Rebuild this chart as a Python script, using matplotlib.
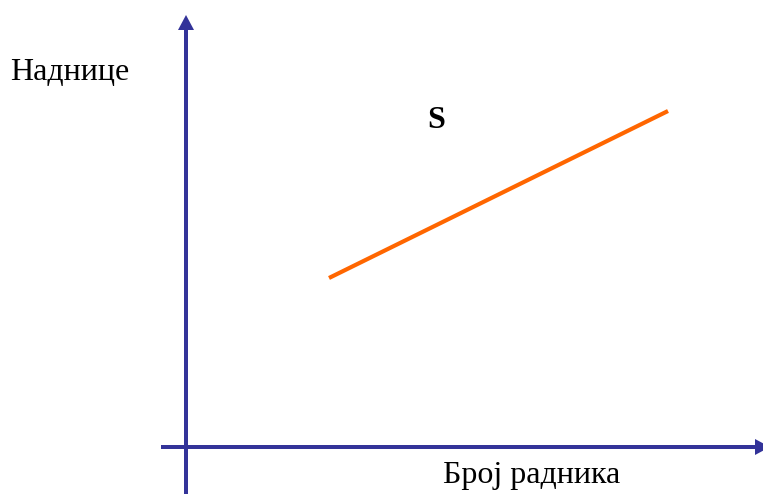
import matplotlib
matplotlib.use('Agg')
import matplotlib.pyplot as plt

# supply curve S (units: 1 = 100 px, origin at axes crossing)
S_x = [1.43, 4.82]
S_y = [1.69, 3.36]

blue = '#333399'
orange = '#ff6600'

plt.rcParams['font.family'] = ['Liberation Serif', 'DejaVu Serif']

fig = plt.figure(figsize=(7.63, 4.94), dpi=100)
ax = fig.add_axes([0, 0, 1, 1])
ax.set_xlim(-1.86, 5.77)
ax.set_ylim(-0.47, 4.47)
ax.axis('off')

# axes with arrows
ax.arrow(-0.25, 0, 6.09, 0, width=0.04, head_width=0.16, head_length=0.15,
         length_includes_head=True, color=blue, linewidth=0)
ax.arrow(0, -0.47, 0, 4.79, width=0.04, head_width=0.16, head_length=0.15,
         length_includes_head=True, color=blue, linewidth=0)

ax.plot(S_x, S_y, color=orange, linewidth=3, solid_capstyle='butt')

ax.text(2.41, 3.19, 'S', fontsize=23, fontweight='bold', ha='left', va='baseline')
ax.text(-1.76, 3.67, 'Наднице', fontsize=23, ha='left', va='baseline')
ax.text(2.57, -0.36, 'Број радника', fontsize=23, ha='left', va='baseline')

plt.savefig('out.png', dpi=100)
